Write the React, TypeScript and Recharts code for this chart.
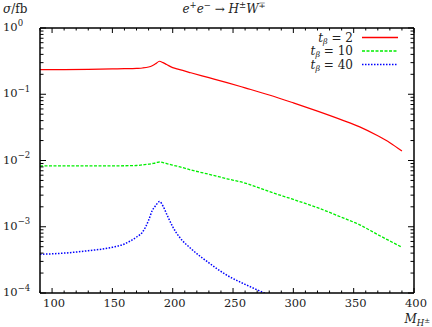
import React from 'react';
import { LineChart, Line, XAxis, YAxis } from 'recharts';

const masses = [90, 110, 130, 150, 160, 170, 175, 180, 183, 186, 189, 192, 195, 200, 205, 215, 230, 245, 260, 280, 300, 320, 340, 355, 370, 380, 390];
const sigmaTb2 = [0.235, 0.236, 0.238, 0.241, 0.243, 0.246, 0.249, 0.258, 0.27, 0.29, 0.315, 0.3, 0.281, 0.252, 0.237, 0.211, 0.178, 0.15, 0.125, 0.0975, 0.074, 0.0555, 0.041, 0.0322, 0.0236, 0.0186, 0.0139];
const sigmaTb10 = [0.00826, 0.0083, 0.0083, 0.0083, 0.00833, 0.0084, 0.0086, 0.0088, 0.009, 0.0092, 0.0095, 0.0093, 0.009, 0.0085, 0.0081, 0.0072, 0.0062, 0.0053, 0.00456, 0.0034, 0.00258, 0.00194, 0.00139, 0.00107, 0.00076, 0.00061, 0.00049];
const sigmaTb40: (number | null)[] = [0.000384, 0.0004, 0.000435, 0.00049, 0.00055, 0.0007, 0.00083, 0.00125, 0.00175, 0.0021, 0.0024, 0.00205, 0.00155, 0.001, 0.00072, 0.00047, 0.000285, 0.000185, 0.000135, 0.000093, null, null, null, null, null, null, null];

const xTicks = [90, 100, 110, 120, 130, 140, 150, 160, 170, 180, 190, 200, 210, 220, 230, 240, 250, 260, 270, 280, 290, 300, 310, 320, 330, 340, 350, 360, 370, 380, 390, 400];
const yTicks: number[] = [];
for (let d = -4; d <= -1; d++) {
  for (let k = 1; k <= 9; k++) yTicks.push(Number((k * Math.pow(10, d)).toPrecision(3)));
}
yTicks.push(1);

const data = masses.map((m, i) => ({ m, tb2: sigmaTb2[i], tb10: sigmaTb10[i], tb40: sigmaTb40[i] }));

const FONT = '"DejaVu Serif", serif';
const isMajorY = (v: number) => Math.abs(Math.log10(v) - Math.round(Math.log10(v))) < 1e-9;

const BottomTick = (props: any) => {
  const { x, y, payload } = props;
  const v = payload.value;
  const major = v % 50 === 0;
  return (
    <g>
      <line x1={x} x2={x} y1={y} y2={y - (major ? 5 : 2.5)} stroke="#000" strokeWidth={1} />
      {major && (
        <text x={x + 2} y={y + 14} textAnchor="middle" fontFamily={FONT} fontSize={11.5} fill="#222">
          {v}
        </text>
      )}
    </g>
  );
};

const TopTick = (props: any) => {
  const { x, y, payload } = props;
  const major = payload.value % 50 === 0;
  return <line x1={x} x2={x} y1={y} y2={y + (major ? 5 : 2.5)} stroke="#000" strokeWidth={1} />;
};

const LeftTick = (props: any) => {
  const { x, y, payload } = props;
  const v = payload.value;
  const major = isMajorY(v);
  const e = Math.round(Math.log10(v));
  return (
    <g>
      <line x1={x} x2={x + (major ? 6 : 3.5)} y1={y} y2={y} stroke="#000" strokeWidth={1} />
      {major && (
        <text x={x - 37} y={y + 3} textAnchor="start" fontFamily={FONT} fontSize={11.5} fill="#222">
          10
          <tspan dy={-5.5} fontSize={8.5}>{e < 0 ? '\u2212' + Math.abs(e) : String(e)}</tspan>
        </text>
      )}
    </g>
  );
};

const RightTick = (props: any) => {
  const { x, y, payload } = props;
  const major = isMajorY(payload.value);
  return <line x1={x} x2={x - (major ? 6 : 3.5)} y1={y} y2={y} stroke="#000" strokeWidth={1} />;
};

const axisLine = { stroke: '#000', strokeWidth: 1.5 };

const legendItems = [
  { label: '2', color: '#ff0000', dash: 'none', width: 1.3 },
  { label: '10', color: '#00ee00', dash: '3 1.5', width: 1.3 },
  { label: '40', color: '#0000ff', dash: '1.5 1.5', width: 1.5 },
];

export default function App() {
  return (
    <div style={{ position: 'absolute', left: 0, top: 0, width: 432, height: 327, background: '#fff' }}>
      <LineChart width={432} height={327} data={data} margin={{ top: 27, right: 17, bottom: 33, left: 0 }}>
        <XAxis
          xAxisId="b"
          dataKey="m"
          type="number"
          domain={[90, 400]}
          allowDataOverflow
          ticks={xTicks}
          interval={0}
          height={1}
          tickSize={0}
          tickMargin={0}
          tickLine={false}
          axisLine={axisLine}
          tick={<BottomTick />}
        />
        <XAxis
          xAxisId="t"
          orientation="top"
          dataKey="m"
          type="number"
          domain={[90, 400]}
          allowDataOverflow
          ticks={xTicks}
          interval={0}
          height={1}
          tickSize={0}
          tickMargin={0}
          tickLine={false}
          axisLine={axisLine}
          tick={<TopTick />}
        />
        <YAxis
          yAxisId="l"
          scale="log"
          type="number"
          domain={[0.0001, 1]}
          allowDataOverflow
          ticks={yTicks}
          interval={0}
          width={40}
          tickSize={0}
          tickMargin={0}
          tickLine={false}
          axisLine={axisLine}
          tick={<LeftTick />}
        />
        <YAxis
          yAxisId="r"
          orientation="right"
          scale="log"
          type="number"
          domain={[0.0001, 1]}
          allowDataOverflow
          ticks={yTicks}
          interval={0}
          width={1}
          tickSize={0}
          tickMargin={0}
          tickLine={false}
          axisLine={axisLine}
          tick={<RightTick />}
        />
        <Line xAxisId="b" yAxisId="l" dataKey="tb2" type="monotone" stroke="#ff0000" strokeWidth={1.2} dot={false} isAnimationActive={false} />
        <Line xAxisId="b" yAxisId="l" dataKey="tb10" type="monotone" stroke="#00ee00" strokeWidth={1.3} strokeDasharray="3 1.5" dot={false} isAnimationActive={false} />
        <Line xAxisId="b" yAxisId="l" dataKey="tb40" type="monotone" stroke="#0000ff" strokeWidth={1.5} strokeDasharray="1.5 1.5" dot={false} isAnimationActive={false} />
      </LineChart>
      <svg width={432} height={327} style={{ position: 'absolute', left: 0, top: 0, pointerEvents: 'none' }}>
        <text x={3} y={13} fontFamily={FONT} fontSize={12} fill="#222">
          <tspan fontStyle="italic">σ</tspan>/fb
        </text>
        <text x={224} y={13} textAnchor="middle" fontFamily={FONT} fontSize={12} fill="#222">
          <tspan fontStyle="italic">e</tspan>
          <tspan dy={-5} fontSize={8.5}>+</tspan>
          <tspan dy={5} fontStyle="italic">e</tspan>
          <tspan dy={-5} fontSize={8.5}>{'\u2212'}</tspan>
          <tspan dy={5}> → </tspan>
          <tspan fontStyle="italic">H</tspan>
          <tspan dy={-5} fontSize={8.5}>±</tspan>
          <tspan dy={5} fontStyle="italic">W</tspan>
          <tspan dy={-5} fontSize={8.5}>∓</tspan>
        </text>
        <text x={430} y={323} textAnchor="end" fontFamily={FONT} fontSize={12} fill="#222">
          <tspan fontStyle="italic">M</tspan>
          <tspan dy={3} fontSize={8.5} fontStyle="italic">H</tspan>
          <tspan dy={-3} fontSize={7}>±</tspan>
        </text>
        {legendItems.map((it, i) => {
          const ly = 37.5 + i * 13.5;
          return (
            <g key={it.label}>
              <text x={353} y={ly + 4} textAnchor="end" fontFamily={FONT} fontSize={12} fill="#222">
                <tspan fontStyle="italic">t</tspan>
                <tspan dy={2} fontSize={8} fontStyle="italic">β</tspan>
                <tspan dy={-2}> = {it.label}</tspan>
              </text>
              <line x1={362} x2={398} y1={ly} y2={ly} stroke={it.color} strokeWidth={it.width} strokeDasharray={it.dash} />
            </g>
          );
        })}
      </svg>
    </div>
  );
}
